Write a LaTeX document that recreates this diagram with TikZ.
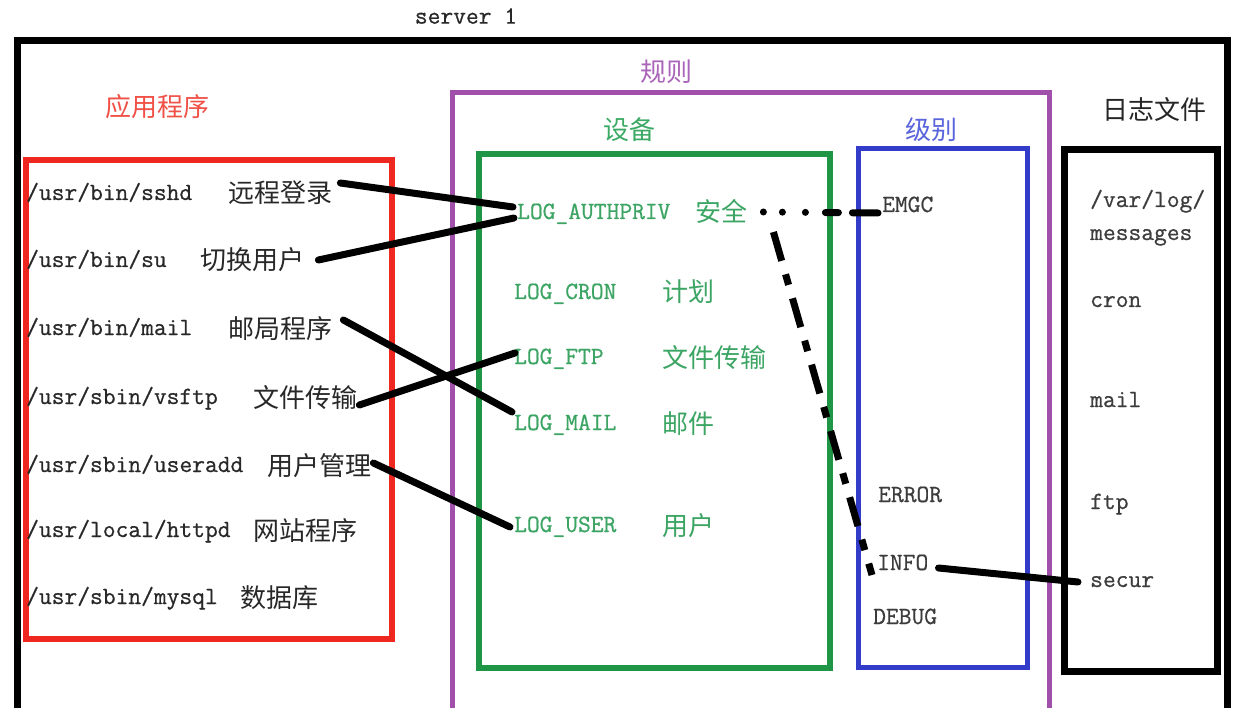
\documentclass[tikz,border=0pt]{standalone}
\usepackage{fontspec}
\newfontfamily\cjk{Noto Sans CJK SC}
\newfontfamily\monofnt[FakeBold=0.7]{Latin Modern Mono}
\definecolor{boxred}{RGB}{238,40,32}
\definecolor{boxpurple}{RGB}{160,80,170}
\definecolor{boxgreen}{RGB}{30,150,70}
\definecolor{boxblue}{RGB}{50,60,200}
\definecolor{lblred}{RGB}{240,80,70}
\definecolor{lblpurple}{RGB}{170,100,185}
\definecolor{lblgreen}{RGB}{60,170,100}
\definecolor{lblblue}{RGB}{90,100,220}
\definecolor{txtgray}{RGB}{40,40,40}
\definecolor{txtgreen}{RGB}{60,165,100}
\definecolor{txtlvl}{RGB}{60,60,60}
\tikzset{
  lt/.style={anchor=west, inner sep=0pt, text height=14pt, text depth=0pt,
    font=\fontsize{24.8}{28}\selectfont\monofnt, text=txtgray},
  cn/.style={anchor=west, inner sep=0pt, text height=22pt, text depth=2pt,
    font=\fontsize{26}{28}\selectfont\cjk, text=txtgray},
  titlelbl/.style={inner sep=0pt, text height=22pt, text depth=2pt,
    font=\fontsize{26}{28}\selectfont\cjk},
  conn/.style={line width=7pt, line cap=round, draw=black},
}
\begin{document}
\begin{tikzpicture}[x=1pt,y=-1pt]
\path[use as bounding box, fill=white] (0,0) rectangle (1252,708);
\clip (0,0) rectangle (1252,708);

% boxes
\draw[line width=7pt] (17,41) rectangle (1227,740);
\draw[line width=6pt, boxred] (26,160) rectangle (392,639);
\draw[line width=5pt, boxpurple] (452,93) rectangle (1049,740);
\draw[line width=6pt, boxgreen] (479,154) rectangle (830,668);
\draw[line width=5pt, boxblue] (858,149) rectangle (1027,667);
\draw[line width=7pt] (1064,150) rectangle (1217,671);

% titles
\node[inner sep=0pt, font=\fontsize{24.8}{28}\selectfont\monofnt, text=txtgray] (srv) at (466,16) {server 1};
\node[titlelbl, text=lblred] (tApp) at (157,107) {应用程序};
\node[titlelbl, text=lblpurple] (tRule) at (666,72) {规则};
\node[titlelbl, text=lblgreen] (tDev) at (629,130) {设备};
\node[titlelbl, text=lblblue] (tLvl) at (931,130) {级别};
\node[titlelbl, text=black!85] (tLog) at (1154,110) {日志文件};

% application list
\node[lt] (p1) at (26,193) {/usr/bin/sshd};
\node[cn] (c1) at (228,193) {远程登录};
\node[lt] (p2) at (26,260) {/usr/bin/su};
\node[cn] (c2) at (200,260) {切换用户};
\node[lt] (p3) at (26,328) {/usr/bin/mail};
\node[cn] (c3) at (228,328) {邮局程序};
\node[lt] (p4) at (26,397) {/usr/sbin/vsftp};
\node[cn] (c4) at (253,397) {文件传输};
\node[lt] (p5) at (26,465) {/usr/sbin/useradd};
\node[cn] (c5) at (267,465) {用户管理};
\node[lt] (p6) at (26,530) {/usr/local/httpd};
\node[cn] (c6) at (253,530) {网站程序};
\node[lt] (p7) at (26,597) {/usr/sbin/mysql};
\node[cn] (c7) at (240,597) {数据库};

% facilities
\node[lt, text=txtgreen] (g1) at (517,212) {LOG\_AUTHPRIV};
\node[cn, text=txtgreen] (h1) at (695,212) {安全};
\node[lt, text=txtgreen] (g2) at (514,292) {LOG\_CRON};
\node[cn, text=txtgreen] (h2) at (662,292) {计划};
\node[lt, text=txtgreen] (g3) at (514,357) {LOG\_FTP};
\node[cn, text=txtgreen] (h3) at (662,357) {文件传输};
\node[lt, text=txtgreen] (g4) at (514,423) {LOG\_MAIL};
\node[cn, text=txtgreen] (h4) at (662,423) {邮件};
\node[lt, text=txtgreen] (g5) at (514,525) {LOG\_USER};
\node[cn, text=txtgreen] (h5) at (662,525) {用户};

% levels
\node[lt, text=txtlvl] (l1) at (882,205) {EMGC};
\node[lt, text=txtlvl] (l2) at (878,495) {ERROR};
\node[lt, text=txtlvl] (l3) at (877,563) {INFO};
\node[lt, text=txtlvl] (l4) at (873,617) {DEBUG};

% log files
\node[lt, text=txtlvl] (f1) at (1090,200) {/var/log/};
\node[lt, text=txtlvl] (f2) at (1090,233) {messages};
\node[lt, text=txtlvl] (f3) at (1090,300) {cron};
\node[lt, text=txtlvl] (f4) at (1090,400) {mail};
\node[lt, text=txtlvl] (f5) at (1090,502) {ftp};
\node[lt, text=txtlvl] (f6) at (1090,580) {secur};

% connectors
\draw[conn] ([shift={(8,-10)}]c1.east) -- ([shift={(-4,-5)}]g1.west);
\draw[conn] ([shift={(14,0)}]c2.east) -- ([shift={(-3,6)}]g1.west);
\draw[conn] ([shift={(11,-8)}]c3.east) -- ([shift={(-2,-11)}]g4.west);
\draw[conn] ([shift={(2,8)}]c4.east) -- ([shift={(1,-4)}]g3.west);
\draw[conn] ([shift={(2,-2)}]c5.east) -- ([shift={(-4,2)}]g5.west);
\draw[conn, dash pattern=on 0pt off 19pt on 0pt off 23pt on 0pt off 20pt on 13pt off 14pt on 26pt off 200pt]
  ([shift={(16,0)}]h1.east) -- ([shift={(-4,8)}]l1.west);
\draw[conn, line cap=butt, dash pattern=on 30pt off 14pt on 11pt off 14pt]
  ([shift={(26,20)}]h1.east) -- ([shift={(-5,12)}]l3.west);
\draw[conn] ([shift={(10,5)}]l3.east) -- ([shift={(-12,2)}]f6.west);
\end{tikzpicture}
\end{document}
